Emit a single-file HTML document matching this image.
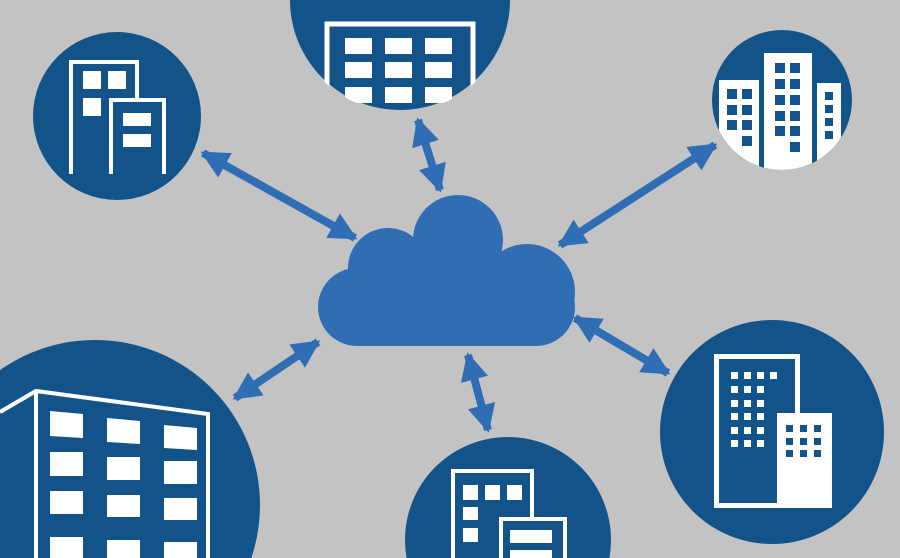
<!DOCTYPE html>
<html><head><meta charset="utf-8"><style>html,body{margin:0;padding:0;background:#c3c3c3;width:900px;height:558px;overflow:hidden}svg{display:block;overflow:hidden}</style></head>
<body>
<svg width="900" height="558" viewBox="0 0 900 558" xmlns="http://www.w3.org/2000/svg" overflow="hidden">
<defs>
<marker id="ah" viewBox="0 0 10 10" refX="9" refY="5" markerWidth="28" markerHeight="28" markerUnits="userSpaceOnUse" orient="auto-start-reverse">
<path d="M0,0 L10,5 L0,10 Z" fill="#2f6db5"/></marker>
<clipPath id="c2"><circle cx="400" cy="2" r="110"/></clipPath>
<clipPath id="c3"><circle cx="782" cy="100" r="70"/></clipPath>
<clipPath id="c4"><rect x="0" y="0" width="900" height="558"/></clipPath>
<clipPath id="c5"><rect x="0" y="0" width="900" height="558"/></clipPath>
</defs>
<rect width="900" height="558" fill="#c3c3c3"/>

<g stroke="#2f6db5" stroke-width="8" marker-start="url(#ah)" marker-end="url(#ah)">
<line x1="203" y1="153" x2="355" y2="238"/>
<line x1="418" y1="120" x2="440" y2="190"/>
<line x1="715" y1="145" x2="560" y2="245"/>
<line x1="235" y1="398" x2="318" y2="342"/>
<line x1="468" y1="355" x2="488" y2="430"/>
<line x1="575" y1="318" x2="668" y2="373"/>
</g>

<g fill="#2f6db5">
<rect x="318" y="268" width="257" height="78" rx="39"/>
<circle cx="388" cy="268" r="40"/>
<circle cx="458" cy="240" r="45"/>
<circle cx="527" cy="292" r="48"/>
<rect x="380" y="260" width="150" height="86"/>
</g>

<circle cx="117" cy="116" r="84" fill="#12548a"/>
<g fill="none" stroke="#fff" stroke-width="4">
<path d="M71,174 V62 H137 V100"/>
<path d="M111,174 V100 H164 V174"/>
</g>
<g fill="#fff">
<rect x="83" y="71" width="18" height="18"/><rect x="108" y="71" width="18" height="18"/><rect x="83" y="98" width="18" height="18"/>
<rect x="123" y="113" width="28" height="13"/><rect x="123" y="134" width="28" height="13"/>
</g>

<path d="M290,0 A110,110 0 0 0 510,0 Z" fill="#12548a"/>
<g clip-path="url(#c2)">
<rect x="327" y="24" width="146" height="100" fill="none" stroke="#fff" stroke-width="5"/>
<g fill="#fff">
<rect x="345" y="38" width="27" height="16"/><rect x="385" y="38" width="27" height="16"/><rect x="425" y="38" width="27" height="16"/>
<rect x="345" y="62" width="27" height="16"/><rect x="385" y="62" width="27" height="16"/><rect x="425" y="62" width="27" height="16"/>
<rect x="345" y="87" width="27" height="16"/><rect x="385" y="87" width="27" height="16"/><rect x="425" y="87" width="27" height="16"/>
</g></g>

<circle cx="782" cy="100" r="70" fill="#12548a"/>
<g clip-path="url(#c3)">
<g fill="#fff"><rect x="719" y="80" width="40" height="92"/><rect x="764" y="53" width="48" height="119"/><rect x="817" y="83" width="24" height="89"/></g>
<g fill="#12548a">
<rect x="727" y="89" width="10" height="10"/><rect x="742" y="89" width="10" height="10"/>
<rect x="727" y="105" width="10" height="10"/><rect x="742" y="105" width="10" height="10"/>
<rect x="727" y="120" width="10" height="10"/><rect x="742" y="120" width="10" height="10"/>
<rect x="742" y="136" width="10" height="10"/>
<rect x="775" y="63" width="10" height="10"/><rect x="790" y="63" width="10" height="10"/>
<rect x="775" y="79" width="10" height="10"/><rect x="790" y="79" width="10" height="10"/>
<rect x="775" y="95" width="10" height="10"/><rect x="790" y="95" width="10" height="10"/>
<rect x="775" y="111" width="10" height="10"/><rect x="790" y="111" width="10" height="10"/>
<rect x="775" y="126" width="10" height="10"/><rect x="790" y="126" width="10" height="10"/>
<rect x="790" y="142" width="10" height="10"/>
<rect x="825" y="92" width="8" height="8"/><rect x="825" y="105" width="8" height="8"/><rect x="825" y="118" width="8" height="8"/><rect x="825" y="131" width="8" height="8"/>
</g></g>

<g clip-path="url(#c4)">
<circle cx="95" cy="505" r="165" fill="#12548a"/>
<path d="M0,412 L36,391 L208,414 V558 M36,391 V558" fill="none" stroke="#fff" stroke-width="4"/>
<g fill="#fff">
<polygon points="50,411 83,414 83,438 50,436"/><polygon points="107,418 140,421 140,444 107,442"/><polygon points="164,425 197,428 197,450 164,448"/>
<rect x="50" y="452" width="33" height="24"/><rect x="107" y="457" width="33" height="23"/><rect x="164" y="461" width="33" height="23"/>
<rect x="50" y="491" width="33" height="23"/><rect x="107" y="495" width="33" height="22"/><rect x="164" y="498" width="33" height="22"/>
<rect x="50" y="537" width="33" height="21"/><rect x="107" y="540" width="33" height="18"/><rect x="164" y="542" width="33" height="16"/>
</g></g>

<g clip-path="url(#c5)">
<circle cx="508" cy="540" r="103" fill="#12548a"/>
<path d="M453,558 V471 H532 V518" fill="none" stroke="#fff" stroke-width="4"/>
<path d="M501,558 V519 H565 V558" fill="none" stroke="#fff" stroke-width="4"/>
<g fill="#fff">
<rect x="463" y="485" width="15" height="15"/><rect x="485" y="485" width="15" height="15"/><rect x="507" y="485" width="15" height="15"/>
<rect x="463" y="507" width="15" height="13"/><rect x="463" y="528" width="15" height="14"/>
<rect x="510" y="530" width="42" height="13"/><rect x="510" y="550" width="42" height="8"/>
</g></g>

<circle cx="772" cy="432" r="112" fill="#12548a"/>
<rect x="716.5" y="356.5" width="81" height="149" fill="none" stroke="#fff" stroke-width="5"/>
<rect x="777" y="413" width="55" height="95" fill="#fff"/>
<g fill="#fff">
<rect x="731" y="372" width="7" height="7"/><rect x="744" y="372" width="7" height="7"/><rect x="757" y="372" width="7" height="7"/><rect x="770" y="372" width="7" height="7"/>
<rect x="731" y="386" width="7" height="7"/><rect x="744" y="386" width="7" height="7"/><rect x="757" y="386" width="7" height="7"/>
<rect x="731" y="400" width="7" height="7"/><rect x="744" y="400" width="7" height="7"/><rect x="757" y="400" width="7" height="7"/>
<rect x="731" y="413" width="7" height="7"/><rect x="744" y="413" width="7" height="7"/><rect x="757" y="413" width="7" height="7"/>
<rect x="731" y="427" width="7" height="7"/><rect x="744" y="427" width="7" height="7"/><rect x="757" y="427" width="7" height="7"/>
<rect x="731" y="440" width="7" height="7"/><rect x="744" y="440" width="7" height="7"/><rect x="757" y="440" width="7" height="7"/>
</g>
<g fill="#12548a">
<rect x="786" y="425" width="7" height="7"/><rect x="800" y="425" width="7" height="7"/><rect x="814" y="425" width="7" height="7"/>
<rect x="786" y="438" width="7" height="7"/><rect x="800" y="438" width="7" height="7"/><rect x="814" y="438" width="7" height="7"/>
<rect x="786" y="450" width="7" height="7"/><rect x="800" y="450" width="7" height="7"/><rect x="814" y="450" width="7" height="7"/>
</g>
</svg>
</body></html>
